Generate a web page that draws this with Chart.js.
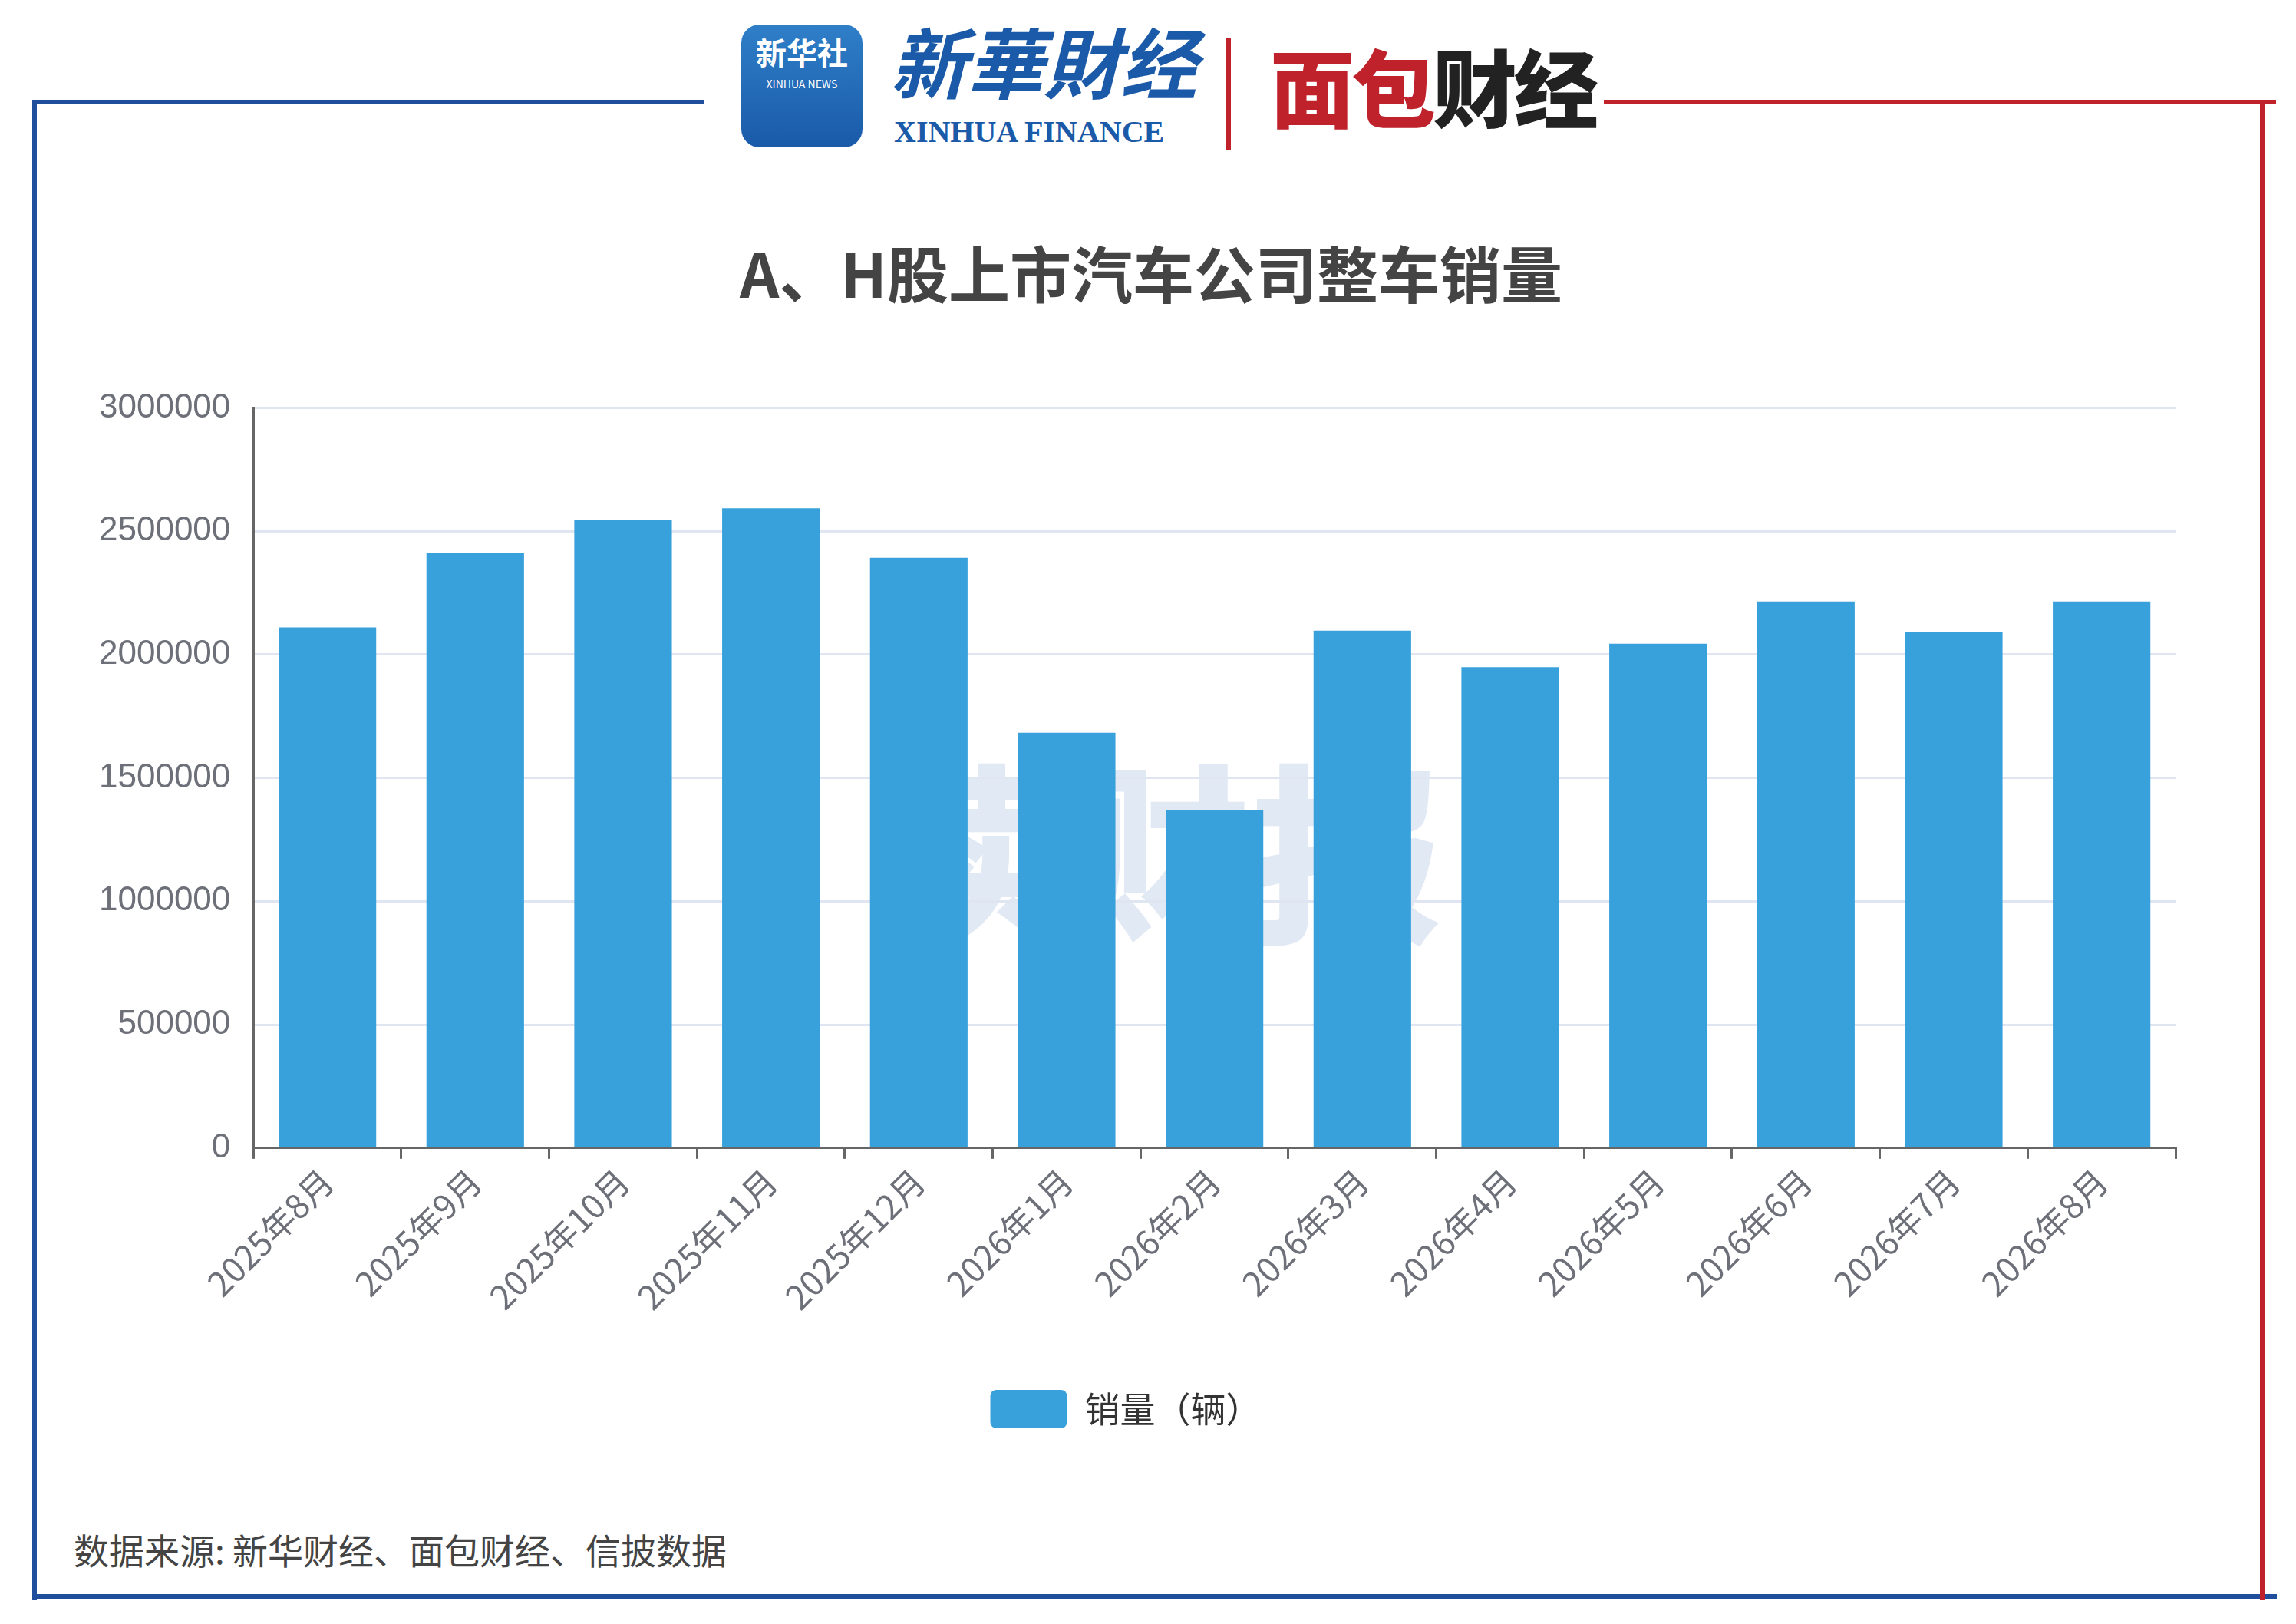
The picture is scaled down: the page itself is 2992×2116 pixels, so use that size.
<!DOCTYPE html>
<html><head><meta charset="utf-8">
<script src="https://cdn.jsdelivr.net/npm/chart.js@4"></script>
<style>
body{margin:0;width:2992px;height:2116px;background:#fff;position:relative;overflow:hidden;font-family:"Noto Sans CJK SC","Noto Sans",sans-serif}
.abs{position:absolute}
</style></head><body>
<div class="abs" style="left:42px;top:130px;width:875px;height:6px;background:#1f4e9c"></div>
<div class="abs" style="left:42px;top:130px;width:6px;height:1955px;background:#1f4e9c"></div>
<div class="abs" style="left:42px;top:2077px;width:2925px;height:7px;background:#1f4e9c"></div>
<div class="abs" style="left:2090px;top:130px;width:876px;height:6px;background:#c0222c"></div>
<div class="abs" style="left:2945px;top:130px;width:6px;height:1955px;background:#c0222c"></div>
<div class="abs" style="left:966px;top:32px;width:158px;height:160px;border-radius:24px;background:linear-gradient(#2f7fc8,#1a5aa8);color:#fff;text-align:center;font-size:40px;font-weight:bold;line-height:70px">新华社<div style="font-size:14px;line-height:14px;font-weight:normal">XINHUA NEWS</div></div>
<div class="abs" style="left:1160px;top:18px;font-size:100px;font-style:italic;font-weight:bold;color:#1a5aa8;line-height:120px">新華財经</div>
<div class="abs" style="left:1165px;top:148px;font-size:40px;font-family:'Liberation Serif';font-weight:bold;color:#1a5aa8">XINHUA FINANCE</div>
<div class="abs" style="left:1598px;top:50px;width:6px;height:146px;background:#c0222c"></div>
<div class="abs" style="left:1655px;top:40px;font-size:110px;font-weight:900;color:#c0222c;line-height:140px;letter-spacing:-4px">面包<span style="color:#222">财经</span></div>
<div class="abs" style="left:0;top:295px;width:3000px;text-align:center;font-size:80px;font-weight:bold;color:#444">A、H股上市汽车公司整车销量</div>
<div class="abs" style="left:1130px;top:950px;font-size:250px;font-weight:900;color:rgba(70,120,190,0.16);letter-spacing:0px;line-height:300px">读财报</div>
<div class="abs" style="left:96px;top:1985px;font-size:46px;color:#444">数据来源: 新华财经、面包财经、信披数据</div>
<div class="abs" style="left:99px;top:475px;width:2756px;height:1396px"><canvas id="c"></canvas></div>
<script>
const categories=["2025年8月","2025年9月","2025年10月","2025年11月","2025年12月","2026年1月","2026年2月","2026年3月","2026年4月","2026年5月","2026年6月","2026年7月","2026年8月"];
const sales=[2110000,2410000,2546000,2593000,2392000,1683000,1370000,2097000,1949000,2044000,2215000,2091000,2215000];
const seriesName="销量（辆）";
new Chart(document.getElementById('c'),{type:'bar',
data:{labels:categories,datasets:[{label:seriesName,data:sales,backgroundColor:'#38a1db',categoryPercentage:1,barPercentage:0.66}]},
options:{responsive:true,maintainAspectRatio:false,animation:false,
layout:{padding:{top:10,right:20}},
plugins:{legend:{position:'bottom',labels:{font:{size:46,family:"Noto Sans CJK SC"},color:'#333',boxWidth:100,boxHeight:50,padding:40,useBorderRadius:true,borderRadius:8}},tooltip:{enabled:false}},
scales:{
x:{afterFit:s=>{s.height+=52},grid:{display:true,drawOnChartArea:false,drawTicks:true,tickLength:14,color:'#666',lineWidth:3,offset:true},border:{color:'#666',width:3},ticks:{color:'#6e7079',font:{size:44,family:"Noto Sans CJK SC"},minRotation:45,maxRotation:45}},
y:{min:0,max:3000000,ticks:{stepSize:500000,color:'#6e7079',font:{size:44},padding:30,callback:v=>String(v)},grid:{color:'#e0e6f1',lineWidth:3,drawTicks:false},border:{color:'#666',width:3}}
}}});
</script></body></html>
